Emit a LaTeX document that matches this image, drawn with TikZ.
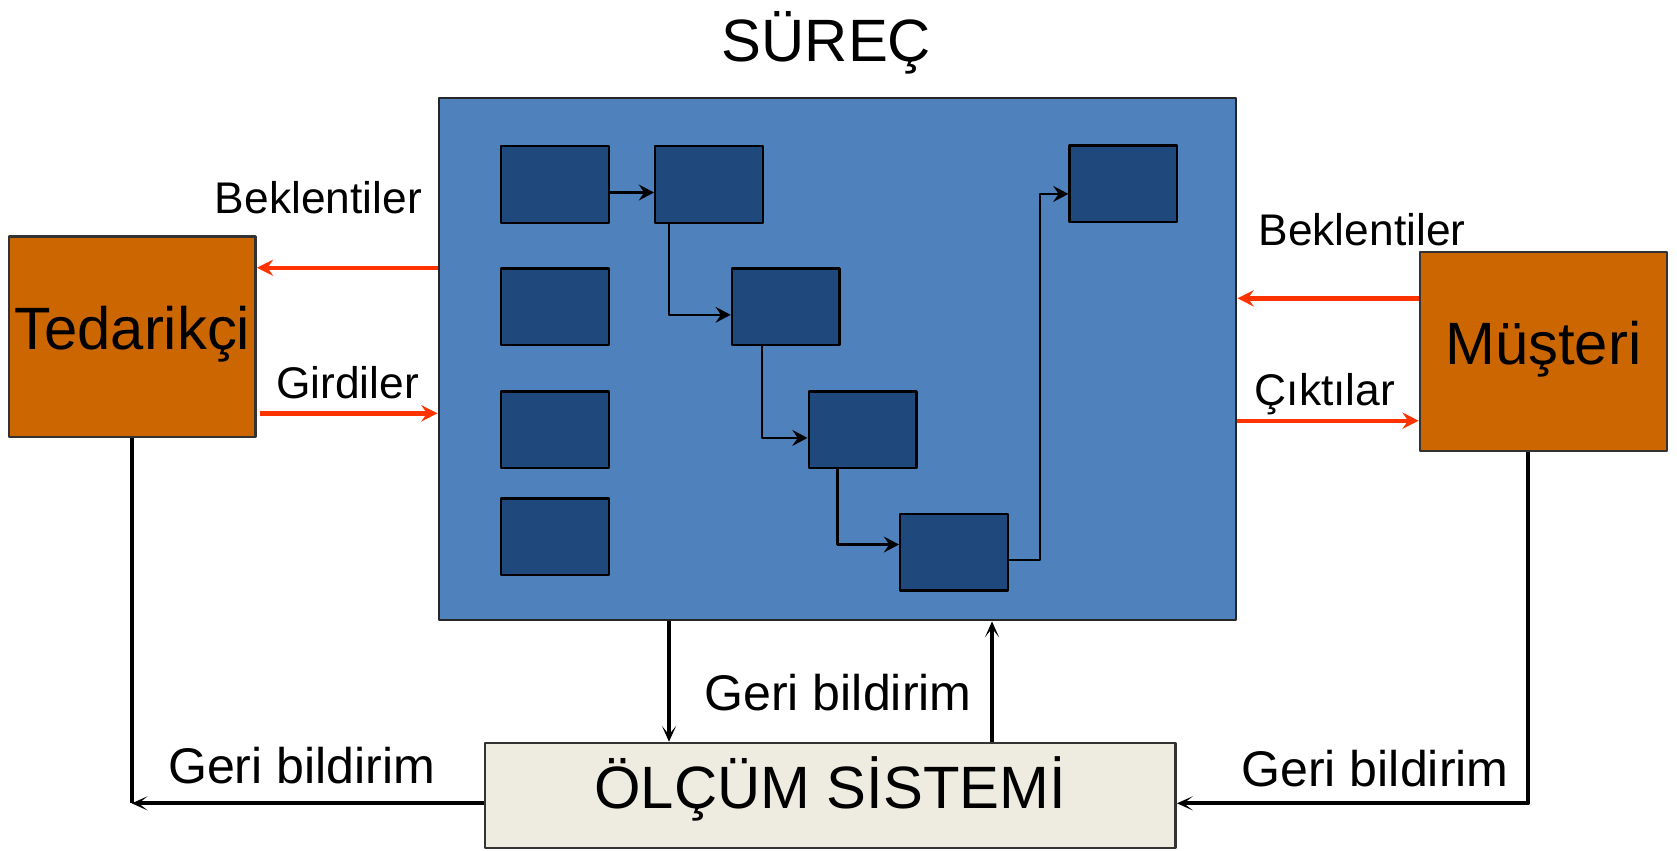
\documentclass[tikz,border=0pt]{standalone}
\usepackage{fontspec}
\setmainfont{Liberation Sans}
\usetikzlibrary{arrows.meta}
\definecolor{blu}{HTML}{4F81BD}
\definecolor{dblu}{HTML}{1F497D}
\definecolor{oran}{HTML}{CC6600}
\definecolor{krem}{HTML}{EEECE1}
\definecolor{redd}{HTML}{FF3300}

\begin{document}
\begin{tikzpicture}[x=0.01cm,y=-0.01cm,line join=round,
  kutu/.style={draw=black,line width=0.7pt,fill=dblu,minimum width=1.075cm,minimum height=0.765cm,inner sep=0pt,anchor=north west},
  buyuk/.style={draw=black!80,line width=0.7pt,inner sep=0pt,font=\fontsize{17}{20}\selectfont,text height=0.75em,text depth=0pt},
  orta/.style={font=\fontsize{12.6}{15}\selectfont,anchor=base},
  geri/.style={font=\fontsize{14.25}{17}\selectfont,anchor=base},
  ic/.style={-{Stealth[length=4.3pt,width=4.5pt,inset=1.5pt]},line width=0.65pt},
  kirmizi/.style={-{Stealth[length=4.6pt,width=4.6pt,inset=1.6pt]},draw=redd,line width=1.25pt},
  donus/.style={-{Stealth[length=4.5pt,width=4pt,inset=2.5pt]},line width=1.2pt}]
\useasboundingbox (0,0) rectangle (1677,850);
% surec kutusu
\node[draw=black!85,line width=0.7pt,fill=blu,minimum width=7.97cm,minimum height=5.22cm,inner sep=0pt] (surec) at (837.5,359) {};
\node[font=\fontsize{17}{20}\selectfont,anchor=base] (baslik) at (826.5,61.7) {SÜREÇ};
\node[kutu] (b1) at (500,145) {};
\node[kutu] (b2) at (500,267.3) {};
\node[kutu] (b3) at (500,390.4) {};
\node[kutu] (b4) at (500,497.3) {};
\node[kutu] (s1) at (654,145) {};
\node[kutu] (s2) at (730.7,267.3) {};
\node[kutu] (s3) at (807.5,390.4) {};
\node[kutu] (s4) at (899,512.7) {};
\node[kutu] (s5) at (1068.4,144.4) {};
\draw[ic] ([yshift=-0.08cm]b1.east) -- ([yshift=-0.08cm]s1.west);
\draw[ic] ([xshift=0.15cm]s1.south west) |- ([yshift=-0.08cm]s2.west);
\draw[ic] ([xshift=0.31cm]s2.south west) |- ([yshift=-0.08cm]s3.west);
\draw[ic] ([xshift=0.30cm]s3.south west) |- ([yshift=0.077cm]s4.west);
\draw[ic] ([yshift=-0.08cm]s4.east) -- ++(31,0) |- ([yshift=-0.1cm]s5.west);
% dis kutular
\node[buyuk,fill=oran,minimum width=2.467cm,minimum height=2cm] (ted) at (132.3,336.7) {Tedarikçi};
\node[buyuk,fill=oran,minimum width=2.467cm,minimum height=1.984cm] (mus) at (1543.3,351.5) {Müşteri};
\node[buyuk,fill=krem,minimum width=6.905cm,minimum height=1.05cm] (olcum) at (830.2,795.5) {ÖLÇÜM SİSTEMİ};
% kirmizi oklar
\coordinate (yBL) at (0,267.7);
\coordinate (yGir) at (0,413.3);
\coordinate (yBR) at (0,298.3);
\coordinate (yCik) at (0,420.7);
\draw[kirmizi] (surec.west |- yBL) -- (ted.east |- yBL);
\draw[kirmizi] ([xshift=0.035cm]ted.east |- yGir) -- (surec.west |- yGir);
\draw[kirmizi] (mus.west |- yBR) -- (surec.east |- yBR);
\draw[kirmizi] (surec.east |- yCik) -- (mus.west |- yCik);
% geri bildirim
\coordinate (xAs) at (669,0);
\coordinate (xUs) at (992,0);
\coordinate (kSol) at (131.7,803.3);
\coordinate (kSag) at (1528,803.3);
\draw[donus] (surec.south -| xAs) -- (olcum.north -| xAs);
\draw[donus] (olcum.north -| xUs) -- (surec.south -| xUs);
\draw[line width=1.2pt] (ted.south -| kSol) -- (kSol);
\draw[donus] (olcum.west |- kSol) -- (kSol);
\draw[donus] (mus.south -| kSag) -- (kSag) -- (olcum.east |- kSag);
% yazilar
\node[orta] (bekSol) at (318.4,213.3) {Beklentiler};
\node[orta] (girdi) at (347.5,398.3) {Girdiler};
\node[orta] (bekSag) at (1362,245) {Beklentiler};
\node[orta] (cikti) at (1325,405) {Çıktılar};
\node[geri] (geriOrta) at (838,710) {Geri bildirim};
\node[geri] (geriSol) at (301.7,783.3) {Geri bildirim};
\node[geri] (geriSag) at (1375,786.7) {Geri bildirim};
\end{tikzpicture}
\end{document}
